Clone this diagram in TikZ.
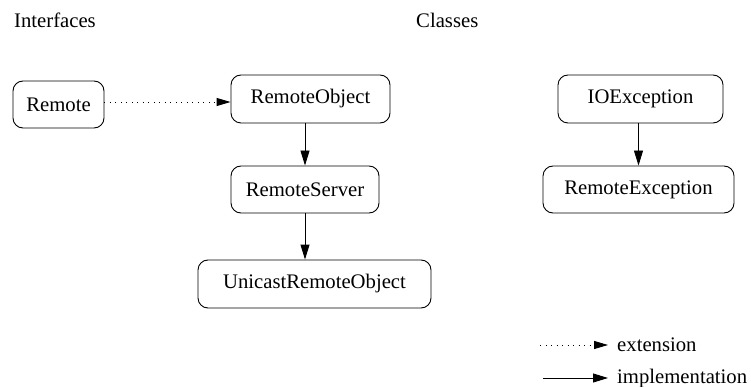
\documentclass[tikz,border=0pt]{standalone}
\usepackage{fontspec}
\setmainfont{Liberation Serif}
\newfontfamily\timesfont{Liberation Serif}
\usetikzlibrary{arrows.meta}
\begin{document}
\begin{tikzpicture}[x=1pt,y=-1pt,
  font=\timesfont\fontsize{20.7}{24}\selectfont,
  box/.style={draw,line width=0.9pt,rounded corners=10pt,inner sep=0pt},
  impl/.style={line width=0.9pt,-{Triangle[length=15pt,width=9pt]}},
  extn/.style={line width=0.9pt,dash pattern=on 1pt off 4.5pt,-{Triangle[length=14pt,width=8pt]}},
  lbl/.style={inner sep=0pt,anchor=base west}]
\useasboundingbox (0,0) rectangle (751,387);
\node[lbl] (hint) at (14,27.7) {Interfaces};
\node[lbl] (hcls) at (416,27.7) {Classes};
\node[box,minimum width=91pt,minimum height=47pt] (Remote) at (58.5,104.5) {Remote};
\node[box,minimum width=159pt,minimum height=48pt] (RemoteObject) at (310.5,99) {RemoteObject};
\node[box,minimum width=148pt,minimum height=47pt] (RemoteServer) at (305,189.5) {RemoteServer};
\node[box,minimum width=233pt,minimum height=48pt] (Unicast) at (314.5,284) {UnicastRemoteObject};
\node[box,minimum width=165pt,minimum height=48pt] (IOException) at (640.5,99) {IOException};
\node[box,minimum width=191pt,minimum height=47pt] (RemoteException) at (638.5,189.5) {RemoteException};
\draw[extn] ([yshift=2.5pt]Remote.east) -- ([yshift=-3pt]RemoteObject.west);
\draw[impl] (RemoteServer.north |- RemoteObject.south) -- (RemoteServer.north);
\draw[impl] (RemoteServer.south) -- (RemoteServer.south |- Unicast.north);
\draw[impl] (RemoteException.north |- IOException.south) -- (RemoteException.north);
\coordinate (e1) at (540,345);
\coordinate (e2) at (608,345);
\coordinate (i1) at (543,378);
\coordinate (i2) at (608,378);
\draw[extn] (e1) -- (e2);
\draw[impl] (i1) -- (i2);
\node[lbl] (lext) at (617,351) {extension};
\node[lbl] (limp) at (617,383.5) {implementation};
\end{tikzpicture}
\end{document}
